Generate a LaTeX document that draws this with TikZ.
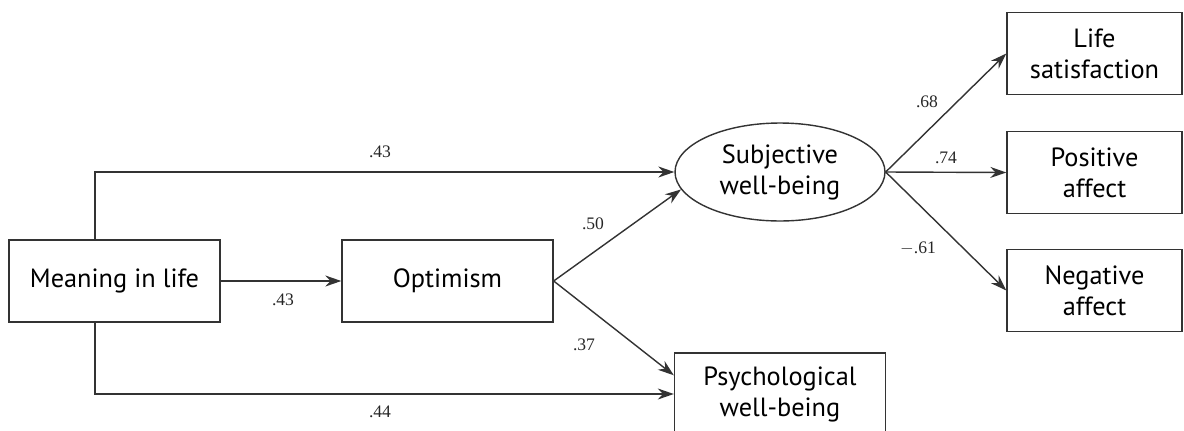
\documentclass[tikz,border=0pt]{standalone}
\usepackage{fontspec}
\setmainfont{PT Sans}
\newfontfamily\numfont{Liberation Serif}
\usetikzlibrary{positioning, arrows.meta, shapes.geometric}

\tikzset{
  var/.style={draw=black!80, line width=0.8pt, rectangle, minimum width=4.22cm, minimum height=1.64cm,
    inner sep=0pt, align=center, font=\fontsize{15}{17.6}\selectfont},
  outvar/.style={var, minimum width=3.5cm},
  latent/.style={draw=black!80, line width=0.8pt, ellipse, minimum width=4.2cm, minimum height=1.96cm,
    inner sep=0pt, align=center, font=\fontsize{15}{17.6}\selectfont},
  path/.style={draw=black!80, line width=0.8pt, -{Stealth[length=3.2mm, width=2.2mm]}},
  coef/.style={font=\numfont\fontsize{10}{12}\selectfont, text=black!85}
}

\begin{document}
\begin{tikzpicture}[x=0.02cm, y=-0.02cm]
                    \clip (0, 0) rectangle (1184, 430);
                    \node[var] (mil) at (114.5, 281) {Meaning in life};
                    \node[var] (opt) at (447.5, 281) {Optimism};
                    \node[latent] (swb) at (780, 172) {Subjective\\well-being};
                    \node[var] (pwb) at (780, 394) {Psychological\\well-being};
                    \node[outvar] (ls) at (1094.5, 53.5) {Life\\satisfaction};
                    \node[outvar] (pa) at (1094.5, 172.5) {Positive\\affect};
                    \node[outvar] (na) at (1094.5, 290.5) {Negative\\affect};
                    % paths from meaning in life
                    \draw[path] ([xshift=-0.39cm]mil.north) |- (swb.west);
                    \draw[path] (mil.east) -- (opt.west);
                    \draw[path] ([xshift=-0.39cm]mil.south) |- (pwb.west);
                    % paths from optimism
                    \draw[path] (opt.east) -- (swb.190);
                    \draw[path] (opt.east) -- (pwb.170);
                    % indicators
                    \draw[path] (swb.east) -- (ls.west);
                    \draw[path] (swb.east) -- (pa.west);
                    \draw[path] (swb.east) -- (na.west);
                    % coefficients
                    \node[coef] (c1) at (380, 152) {.43};
                    \node[coef] (c2) at (283, 300) {.43};
                    \node[coef] (c3) at (380, 412) {.44};
                    \node[coef] (c4) at (593, 224) {.50};
                    \node[coef] (c5) at (584, 345) {.37};
                    \node[coef] (c6) at (927, 102) {.68};
                    \node[coef] (c7) at (946, 158) {.74};
                    \node[coef] (c8) at (918, 248) {$-$.61};
                \end{tikzpicture}
\end{document}
